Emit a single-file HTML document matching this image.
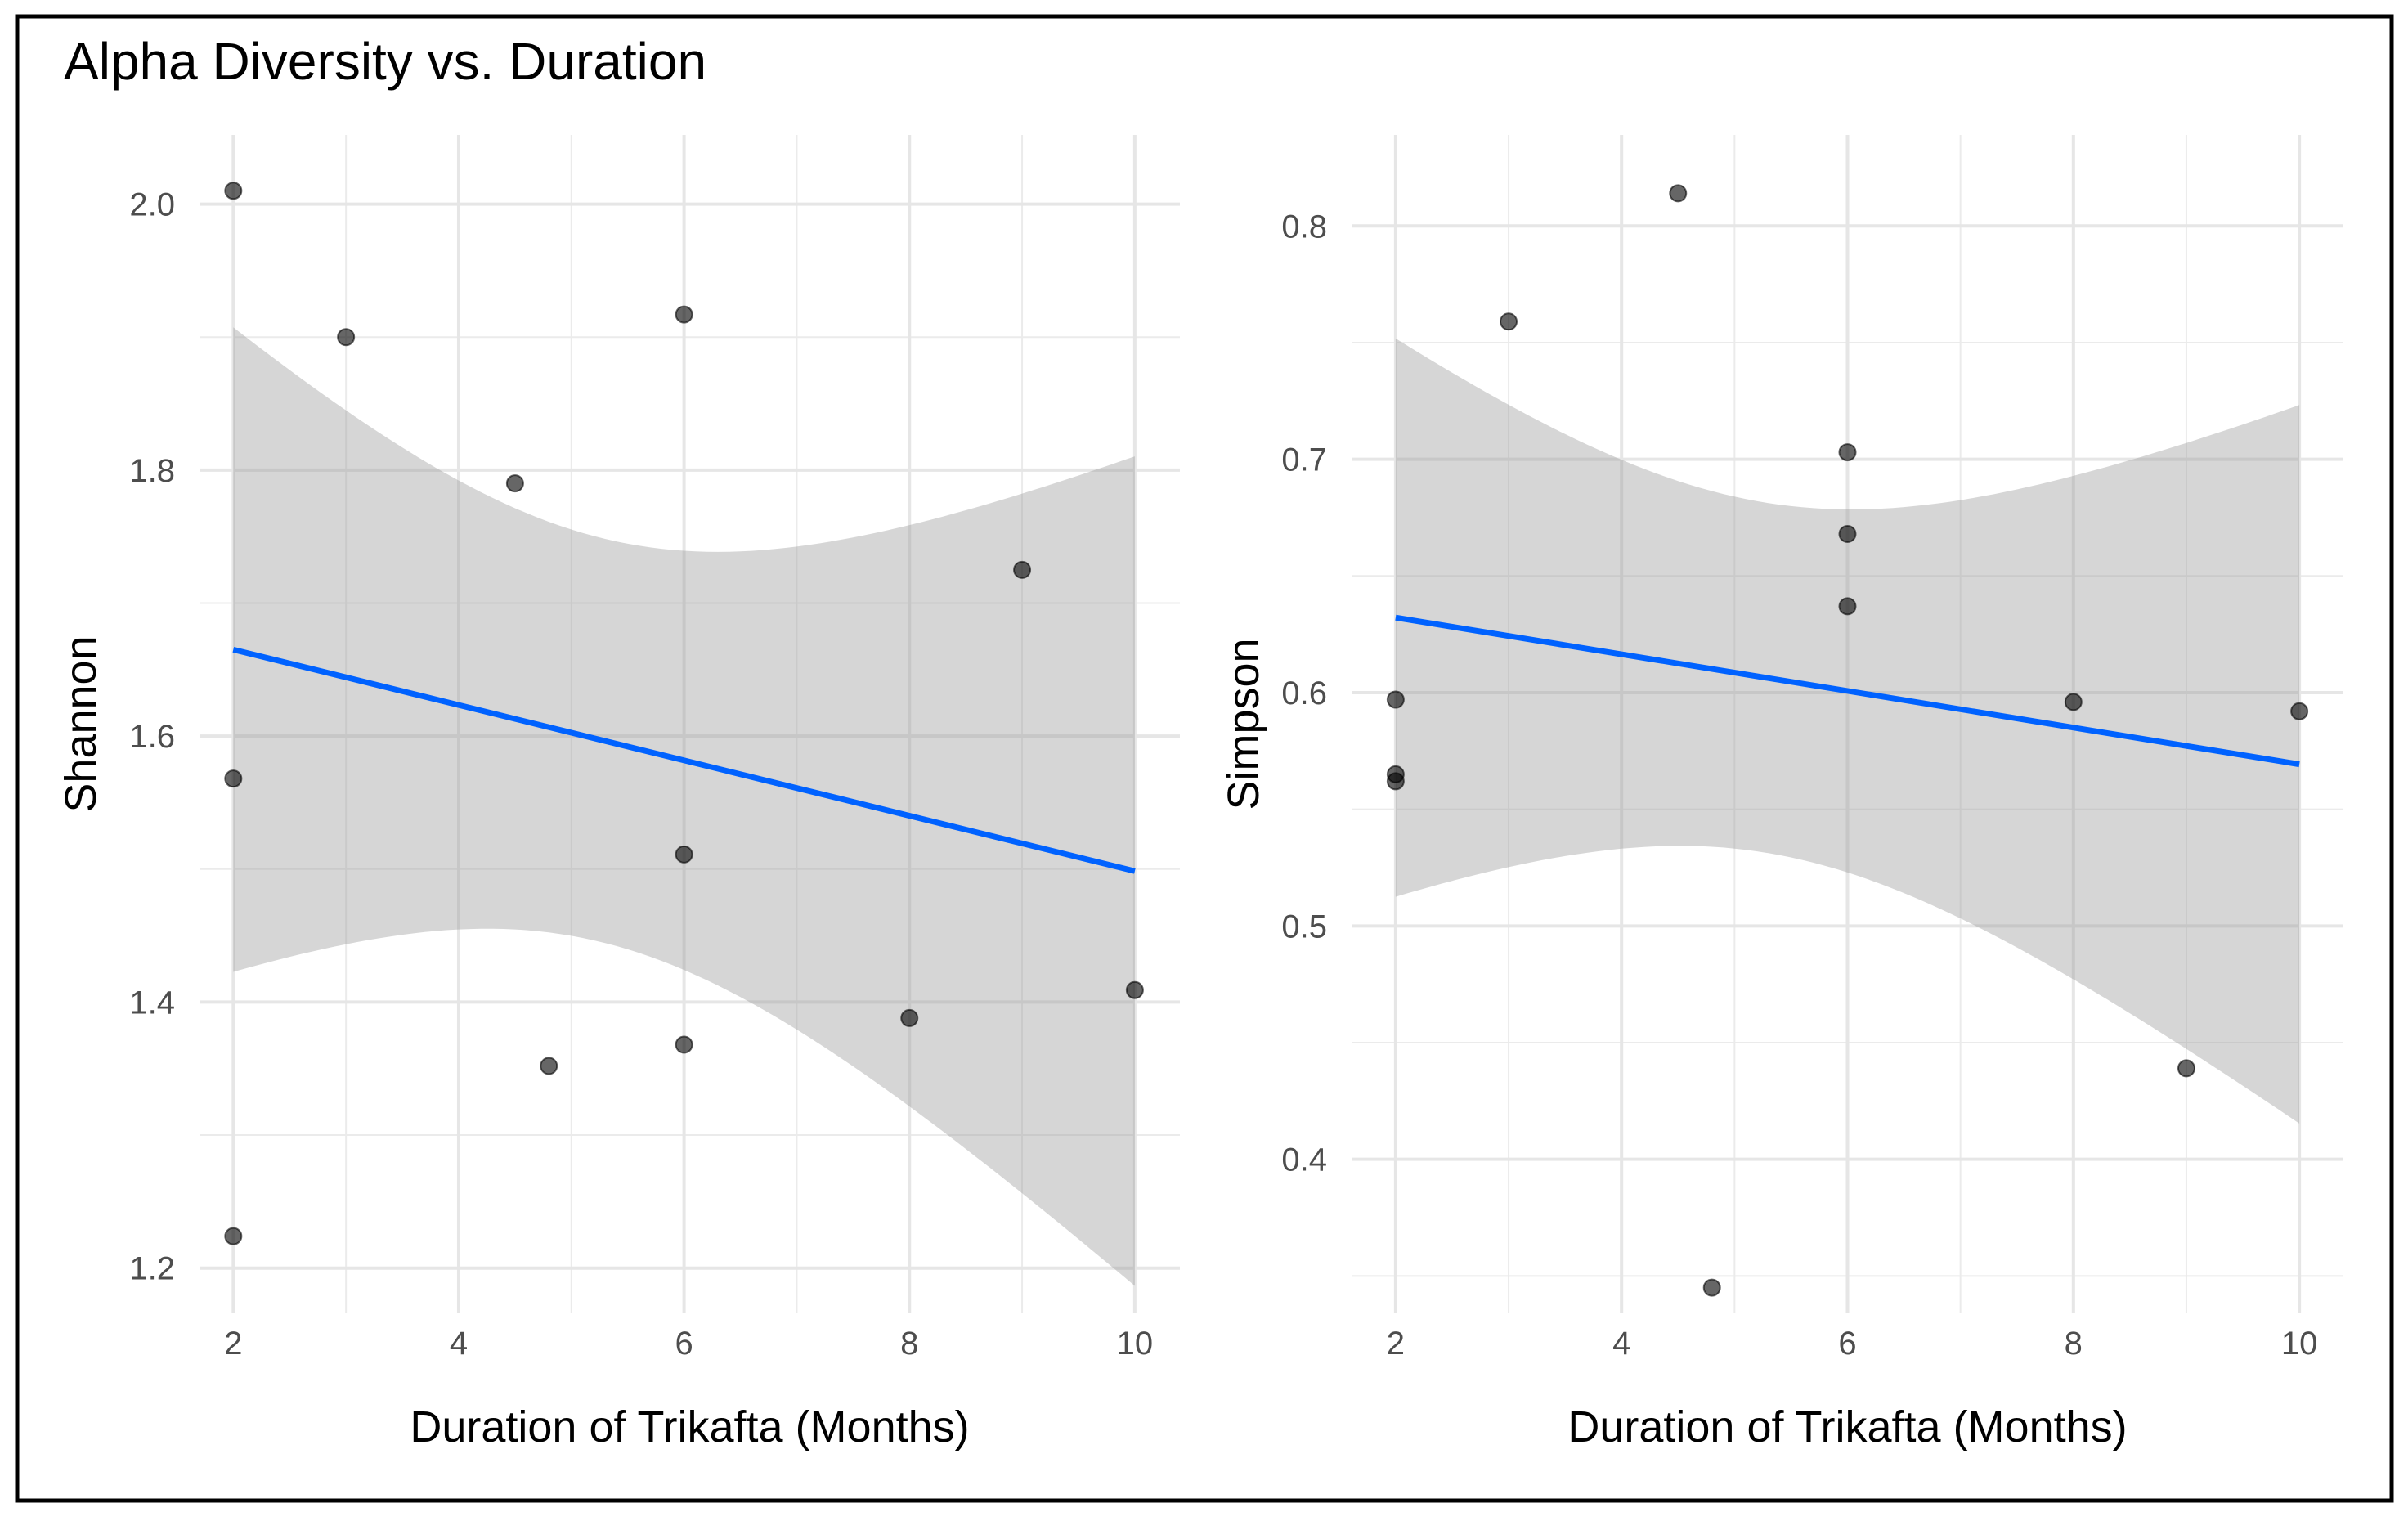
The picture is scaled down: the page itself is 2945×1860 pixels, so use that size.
<!DOCTYPE html>
<html><head><meta charset="utf-8"><style>
html,body{margin:0;padding:0;background:#fff;}
svg{display:block;font-family:"Liberation Sans",sans-serif;}
</style></head><body>
<svg id="chart" width="2945" height="1860" viewBox="0 0 2945 1860" xmlns="http://www.w3.org/2000/svg">
<rect x="0" y="0" width="2945" height="1860" fill="#fff"/>
<rect x="21" y="20" width="2904" height="1815" fill="none" stroke="#000" stroke-width="5"/>
<text x="78" y="97" font-size="64" fill="#000">Alpha Diversity vs. Duration</text>
</svg>
<script>
const durationLeft = [2, 3, 6, 4.5, 9, 2, 6, 4.8, 6, 8, 10, 2];
const shannonValues = [2.01, 1.90, 1.917, 1.79, 1.725, 1.568, 1.511, 1.352, 1.368, 1.388, 1.409, 1.224];
const durationRight = [4.5, 3, 6, 6, 6, 2, 2, 2, 8, 10, 9, 4.8];
const simpsonValues = [0.814, 0.759, 0.703, 0.668, 0.637, 0.597, 0.565, 0.562, 0.596, 0.592, 0.439, 0.345];
const xTicks = [2, 4, 6, 8, 10];
const shannonTicks = [1.2, 1.4, 1.6, 1.8, 2.0];
const simpsonTicks = [0.4, 0.5, 0.6, 0.7, 0.8];

const NS = "http://www.w3.org/2000/svg";
const svg = document.getElementById("chart");
function mk(tag, attrs, parent) {
  const e = document.createElementNS(NS, tag);
  for (const k in attrs) e.setAttribute(k, attrs[k]);
  (parent || svg).appendChild(e);
  return e;
}

function panel(cfg) {
  const g = mk("g", {});
  
  
  const sx = v => cfg.px0 + (v - cfg.xmin) / (cfg.xmax - cfg.xmin) * (cfg.px1 - cfg.px0);
  const sy = v => cfg.py1 - (v - cfg.ymin) / (cfg.ymax - cfg.ymin) * (cfg.py1 - cfg.py0);
  for (let i = 0; i < xTicks.length - 1; i++) {
    const v = (xTicks[i] + xTicks[i + 1]) / 2;
    const l = mk("line", {x1: sx(v), x2: sx(v), y1: cfg.py0, y2: cfg.py1, stroke: "#ebebeb", "stroke-width": 2}, g);
    
    
  }
  const yStep = cfg.yTicks[1] - cfg.yTicks[0];
  const minorY = [cfg.yTicks[0] - yStep / 2];
  for (let i = 0; i < cfg.yTicks.length; i++) minorY.push(cfg.yTicks[i] + yStep / 2);
  minorY.forEach(v => {
    if (v < cfg.ymin || v > cfg.ymax) return;
    const l = mk("line", {x1: cfg.px0, x2: cfg.px1, y1: sy(v), y2: sy(v), stroke: "#ebebeb", "stroke-width": 2}, g);
    
    
  });
  xTicks.forEach(v => {
    const l = mk("line", {x1: sx(v), x2: sx(v), y1: cfg.py0, y2: cfg.py1, stroke: "#e6e6e6", "stroke-width": 4}, g);
    
    
    const t = mk("text", {x: sx(v), y: cfg.py1 + 50, "font-size": 40, fill: "#4d4d4d", "text-anchor": "middle"}, g);
    t.textContent = String(v);
    
    
  });
  cfg.yTicks.forEach(v => {
    const l = mk("line", {x1: cfg.px0, x2: cfg.px1, y1: sy(v), y2: sy(v), stroke: "#e6e6e6", "stroke-width": 4}, g);
    
    
    const t = mk("text", {x: cfg.px0 - 30, y: sy(v) + 14, "font-size": 40, fill: "#4d4d4d", "text-anchor": "end"}, g);
    t.textContent = v.toFixed(1);
    
    
  });
  const xs = cfg.xs, ys = cfg.ys, n = xs.length;
  const mx = xs.reduce((a, b) => a + b, 0) / n, my = ys.reduce((a, b) => a + b, 0) / n;
  let sxx = 0, sxy = 0;
  for (let i = 0; i < n; i++) { sxx += (xs[i] - mx) ** 2; sxy += (xs[i] - mx) * (ys[i] - my); }
  const b = sxy / sxx, a = my - b * mx;
  let sse = 0;
  for (let i = 0; i < n; i++) sse += (ys[i] - a - b * xs[i]) ** 2;
  const s = Math.sqrt(sse / (n - 2)), tq = 1.96;
  const x0 = Math.min(...xs), x1 = Math.max(...xs);
  const up = [], lo = [];
  for (let k = 0; k <= 80; k++) {
    const x = x0 + (x1 - x0) * k / 80;
    const f = a + b * x, h = tq * s * Math.sqrt(1 / n + (x - mx) ** 2 / sxx);
    up.push(sx(x).toFixed(1) + "," + sy(f + h).toFixed(1));
    lo.unshift(sx(x).toFixed(1) + "," + sy(f - h).toFixed(1));
  }
  const rib = mk("polygon", {points: up.concat(lo).join(" "), fill: "#999999", "fill-opacity": 0.4}, g);
  
  
  const ln = mk("line", {x1: sx(x0), y1: sy(a + b * x0), x2: sx(x1), y2: sy(a + b * x1), stroke: "#0062ff", "stroke-width": 7}, g);
  
  
  for (let i = 0; i < n; i++) {
    const c = mk("circle", {cx: sx(xs[i]), cy: sy(ys[i]), r: 10, fill: "#000", "fill-opacity": 0.6, stroke: "#000", "stroke-opacity": 0.6, "stroke-width": 2}, g);
    
    
  }
  const xt = mk("text", {x: (cfg.px0 + cfg.px1) / 2, y: cfg.py1 + 157, "font-size": 54, fill: "#000", "text-anchor": "middle"}, g);
  xt.textContent = "Duration of Trikafta (Months)";
  
  
  const yc = (cfg.py0 + cfg.py1) / 2;
  const yt = mk("text", {x: cfg.ytx, y: yc, "font-size": 54, fill: "#000", "text-anchor": "middle", transform: "rotate(-90 " + cfg.ytx + " " + yc + ")"}, g);
  yt.textContent = cfg.ylabel;
  
  
}

panel({name: "shannon-panel", xs: durationLeft, ys: shannonValues, yTicks: shannonTicks, ylabel: "Shannon",
  px0: 244, px1: 1443, py0: 165, py1: 1606, xmin: 1.7, xmax: 10.4, ymin: 1.166, ymax: 2.052, ytx: 117});
panel({name: "simpson-panel", xs: durationRight, ys: simpsonValues, yTicks: simpsonTicks, ylabel: "Simpson",
  px0: 1653, px1: 2866, py0: 165, py1: 1606, xmin: 1.61, xmax: 10.39, ymin: 0.334, ymax: 0.839, ytx: 1539});
</script>
</body></html>
